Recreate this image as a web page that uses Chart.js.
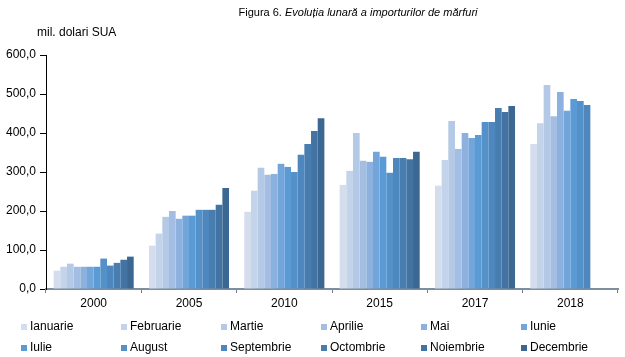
<!DOCTYPE html>
<html>
<head>
<meta charset="utf-8">
<script src="https://cdn.jsdelivr.net/npm/chart.js@4/dist/chart.umd.min.js"></script>
<style>
  html, body { margin: 0; padding: 0; background: #fff; }
  #wrap { position: relative; width: 625px; height: 357px; }
</style>
</head>
<body>
<div id="wrap"><canvas id="c" width="625" height="357"></canvas></div>
<script>
const categories = ['2000', '2005', '2010', '2015', '2017', '2018'];
const months = ['Ianuarie', 'Februarie', 'Martie', 'Aprilie', 'Mai', 'Iunie',
                'Iulie', 'August', 'Septembrie', 'Octombrie', 'Noiembrie', 'Decembrie'];

const ianuarie   = [47, 111, 198, 267, 265, 372];
const februarie  = [57, 142, 252, 303, 331, 425];
const martie     = [65, 185, 311, 400, 431, 523];
const aprilie    = [57, 200, 293, 329, 359, 443];
const mai        = [57, 180, 295, 326, 400, 505];
const iunie      = [57, 188, 321, 352, 387, 457];
const iulie      = [57, 188, 313, 339, 395, 487];
const august     = [78, 203, 300, 298, 428, 482];
const septembrie = [60, 203, 344, 336, 428, 472];
const octombrie  = [67, 203, 372, 336, 464, null];
const noiembrie  = [75, 216, 405, 333, 454, null];
const decembrie  = [83, 259, 438, 352, 469, null];

const yTicks = [0, 100, 200, 300, 400, 500, 600];

const seriesValues = [ianuarie, februarie, martie, aprilie, mai, iunie,
                      iulie, august, septembrie, octombrie, noiembrie, decembrie];

const colors = ['#d3dded', '#c3d3ea', '#b4c9e6', '#a3bee2', '#8cb1de', '#72a5da',
                '#5b9bd5', '#5491c9', '#4e87bd', '#487db0', '#4273a2', '#3c6792'];

const FONT = '"Liberation Sans", Arial, sans-serif';

const textPlugin = {
  id: 'textPlugin',
  afterDraw(chart) {
    const ctx = chart.ctx;
    ctx.save();
    ctx.fillStyle = '#000';
    ctx.textBaseline = 'middle';
    // Title
    ctx.font = '11px ' + FONT;
    const t1 = 'Figura 6. ';
    const t2 = 'Evoluția lunară a importurilor de mărfuri';
    ctx.textAlign = 'left';
    const w1 = ctx.measureText(t1).width;
    ctx.font = 'italic 11px ' + FONT;
    const w2 = ctx.measureText(t2).width;
    const x0 = 358 - (w1 + w2) / 2;
    ctx.font = '11px ' + FONT;
    ctx.fillText(t1, x0, 13);
    ctx.font = 'italic 11px ' + FONT;
    ctx.fillText(t2, x0 + w1, 13);
    // Unit label
    ctx.font = '12px ' + FONT;
    ctx.fillText('mil. dolari SUA', 37, 33);
    // Legend
    ctx.font = '12px ' + FONT;
    chart.data.datasets.forEach((ds, i) => {
      const col = i % 6;
      const row = Math.floor(i / 6);
      const x = 21 + col * 100;
      const y = 327 + row * 21;
      ctx.fillStyle = ds.backgroundColor;
      ctx.fillRect(x, y - 3, 6, 6);
      ctx.fillStyle = '#000';
      ctx.fillText(ds.label, x + 9, y);
    });
    ctx.restore();
  }
};

new Chart(document.getElementById('c'), {
  type: 'bar',
  data: {
    labels: categories,
    datasets: months.map((m, i) => ({
      label: m,
      data: seriesValues[i],
      backgroundColor: colors[i],
      borderWidth: 0,
      categoryPercentage: 0.84,
      barPercentage: 1.0
    }))
  },
  options: {
    responsive: false,
    animation: false,
    events: [],
    layout: { padding: { top: 55, right: 7, bottom: 46, left: 0 } },
    plugins: {
      legend: { display: false },
      title: { display: false },
      tooltip: { enabled: false }
    },
    scales: {
      x: {
        offset: true,
        grid: {
          offset: true,
          drawOnChartArea: false,
          drawTicks: true,
          tickLength: 4,
          color: '#6f7f90'
        },
        border: { display: true, color: '#7f8e9c', width: 2 },
        ticks: {
          color: '#000',
          font: { family: FONT, size: 12 },
          padding: 3
        },
        afterFit(scale) { scale.height = 22; }
      },
      y: {
        min: 0,
        max: 600,
        afterBuildTicks(scale) { scale.ticks = yTicks.map(v => ({ value: v })); },
        grid: {
          drawOnChartArea: false,
          drawTicks: true,
          tickLength: 6,
          color: '#000'
        },
        border: { display: true, color: '#000', width: 1 },
        ticks: {
          color: '#000',
          font: { family: FONT, size: 12 },
          padding: 4,
          callback: v => v.toFixed(1).replace('.', ',')
        },
        afterFit(scale) { scale.width = 46; }
      }
    }
  },
  plugins: [textPlugin]
});
</script>
</body>
</html>
